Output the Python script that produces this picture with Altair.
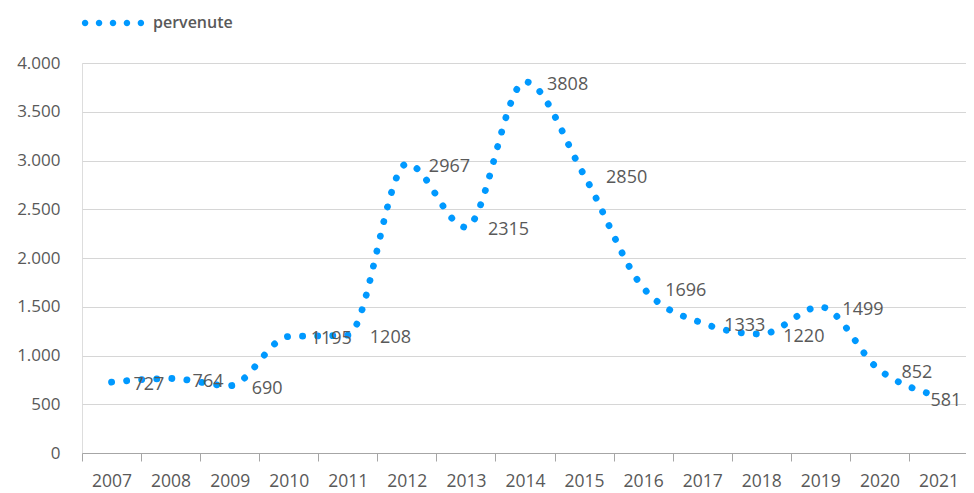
import altair as alt
import pandas as pd

years = [2007, 2008, 2009, 2010, 2011, 2012, 2013, 2014, 2015, 2016, 2017, 2018, 2019, 2020, 2021]
values = [727, 764, 690, 1195, 1208, 2967, 2315, 3808, 2850, 1696, 1333, 1220, 1499, 852, 581]
series_name = "pervenute"
y_ticks = [0, 500, 1000, 1500, 2000, 2500, 3000, 3500, 4000]
x_bounds = [y - 0.5 for y in years] + [years[-1] + 0.5]

BLUE = "#0099FF"
TEXT = "#595959"
FONT = "Open Sans"

df = pd.DataFrame({"year": years, "value": values, "serie": series_name})

x_scale = alt.Scale(domain=[years[0] - 0.5, years[-1] + 0.5], nice=False, zero=False)

x_ticks_axis = alt.Axis(
    values=x_bounds,
    title=None,
    grid=False,
    labels=False,
    domainColor="#a6a6a6",
    tickColor="#a6a6a6",
    tickSize=8,
    orient="bottom",
)

x_labels_axis = alt.Axis(
    values=years,
    title=None,
    grid=False,
    domain=False,
    ticks=False,
    format="d",
    labelFont=FONT,
    labelFontSize=17.5,
    labelFontWeight=500,
    labelColor=TEXT,
    labelPadding=19,
    labelFlush=False,
    labelOverlap=False,
    orient="bottom",
)

y_enc = alt.Y(
    "value:Q",
    scale=alt.Scale(domain=[0, 4000], nice=False),
    axis=alt.Axis(
        values=y_ticks,
        title=None,
        domain=False,
        ticks=False,
        grid=True,
        gridColor="#d6d6d6",
        gridWidth=1,
        labelExpr="replace(format(datum.value, ','), ',', '.')",
        labelFont=FONT,
        labelFontSize=17,
        labelFontWeight=500,
        labelColor=TEXT,
        labelPadding=22,
    ),
)

dots_path = " ".join(
    f"M{c - 0.105},0 a0.105,0.105 0 1,0 0.21,0 a0.105,0.105 0 1,0 -0.21,0"
    for c in [-0.9, -0.45, 0.0, 0.45, 0.9]
)

line = alt.Chart(df).mark_line(
    interpolate="monotone",
    strokeDash=[0.1, 15],
    strokeCap="round",
    strokeWidth=6.8,
).encode(
    x=alt.X("year:Q", scale=x_scale, axis=x_ticks_axis),
    y=y_enc,
    color=alt.Color(
        "serie:N",
        scale=alt.Scale(range=[BLUE]),
        legend=alt.Legend(
            title=None,
            orient="none",
            legendX=0,
            legendY=-71,
            symbolType=dots_path,
            symbolSize=3844,
            symbolFillColor=BLUE,
            symbolStrokeWidth=0,
            symbolOpacity=1,
            labelFont=FONT,
            labelFontSize=16,
            labelFontWeight=600,
            labelColor=TEXT,
            labelOffset=9,
            padding=0,
        ),
    ),
)

labels = alt.Chart(df).transform_filter("datum.year < 2021").mark_text(
    align="left", baseline="middle", dx=22, dy=3, font=FONT, fontSize=18,
    fontWeight=500, color=TEXT
).encode(
    x=alt.X("year:Q", scale=x_scale, axis=x_labels_axis),
    y=alt.Y("value:Q"),
    text="value:Q",
)

last_label = alt.Chart(df).transform_filter("datum.year == 2021").mark_text(
    align="left", baseline="middle", dx=-8, dy=5, font=FONT, fontSize=18,
    fontWeight=500, color=TEXT
).encode(
    x=alt.X("year:Q", scale=x_scale, axis=None),
    y=alt.Y("value:Q"),
    text="value:Q",
)

chart = alt.layer(line, labels, last_label).resolve_axis(x="independent").properties(
    width=886,
    height=390,
    autosize=alt.AutoSizeParams(type="none"),
    padding={"left": 74, "top": 55, "right": -2, "bottom": 39},
).configure_view(stroke=None).configure(background="white")

chart.save("out.html", embed_options={"renderer": "svg", "actions": False})
